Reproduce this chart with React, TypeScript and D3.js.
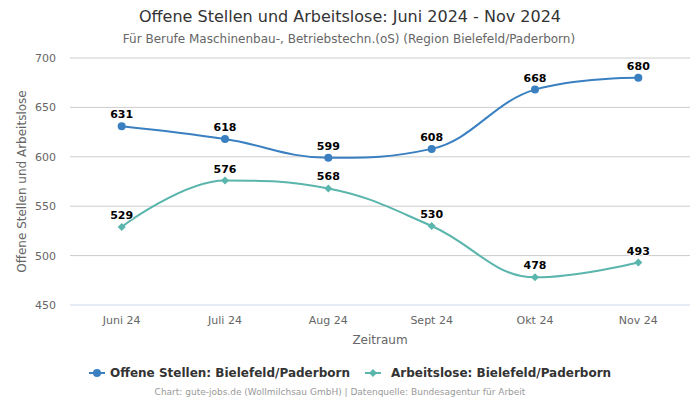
import React from "react";
import * as d3 from "d3";

const categories = ["Juni 24", "Juli 24", "Aug 24", "Sept 24", "Okt 24", "Nov 24"];
const offeneStellen = [631, 618, 599, 608, 668, 680];
const arbeitslose = [529, 576, 568, 530, 478, 493];
const yTicks = [450, 500, 550, 600, 650, 700];

const W = 700, H = 400;
const plot = { left: 70, right: 690, top: 58, bottom: 305 };
const FONT = "'DejaVu Sans', sans-serif";
const BLUE = "#3a80c1";
const TEAL = "#5ab5ad";

type P = { x: number; y: number };

function hcSpline(pts: P[]): string {
  const smoothing = 1.5, denom = smoothing + 1;
  const rc: { x: number; y: number }[] = [];
  const lc: { x: number; y: number }[] = [];
  pts.forEach((p, i) => {
    const last = pts[i - 1], next = pts[i + 1];
    if (last && next) {
      const lcx = (smoothing * p.x + last.x) / denom;
      let lcy = (smoothing * p.y + last.y) / denom;
      const rcx = (smoothing * p.x + next.x) / denom;
      let rcy = (smoothing * p.y + next.y) / denom;
      if (rcx !== lcx) {
        const corr = ((rcy - lcy) * (rcx - p.x)) / (rcx - lcx) + p.y - rcy;
        lcy += corr;
        rcy += corr;
      }
      if (lcy > last.y && lcy > p.y) { lcy = Math.max(last.y, p.y); rcy = 2 * p.y - lcy; }
      else if (lcy < last.y && lcy < p.y) { lcy = Math.min(last.y, p.y); rcy = 2 * p.y - lcy; }
      if (rcy > next.y && rcy > p.y) { rcy = Math.max(next.y, p.y); lcy = 2 * p.y - rcy; }
      else if (rcy < next.y && rcy < p.y) { rcy = Math.min(next.y, p.y); lcy = 2 * p.y - rcy; }
      lc[i] = { x: lcx, y: lcy };
      rc[i] = { x: rcx, y: rcy };
    } else {
      lc[i] = { x: p.x, y: p.y };
      rc[i] = { x: p.x, y: p.y };
    }
  });
  let d = `M${pts[0].x},${pts[0].y}`;
  for (let i = 1; i < pts.length; i++) {
    d += `C${rc[i - 1].x},${rc[i - 1].y} ${lc[i].x},${lc[i].y} ${pts[i].x},${pts[i].y}`;
  }
  return d;
}

export default function App() {
  const x = d3.scaleBand<string>().domain(categories).range([plot.left, plot.right]);
  const y = d3.scaleLinear().domain([450, 700]).range([plot.bottom, plot.top]);
  const cx = (c: string) => (x(c) as number) + x.bandwidth() / 2;

  const series = [
    { name: "Offene Stellen: Bielefeld/Paderborn", data: offeneStellen, color: BLUE, marker: "circle" },
    { name: "Arbeitslose: Bielefeld/Paderborn", data: arbeitslose, color: TEAL, marker: "diamond" },
  ];

  const marker = (kind: string, px: number, py: number, color: string, key: string) =>
    kind === "circle" ? (
      <circle key={key} cx={px} cy={py} r={4} fill={color} />
    ) : (
      <path key={key} d={`M${px},${py - 4}L${px + 4},${py}L${px},${py + 4}L${px - 4},${py}Z`} fill={color} />
    );

  return (
    <svg width={W} height={H} style={{ position: "absolute", left: 0, top: 0, fontFamily: FONT }}>
      <rect width={W} height={H} fill="#fff" />
      <text x={350} y={22} textAnchor="middle" fontSize={16} fill="#333">
        Offene Stellen und Arbeitslose: Juni 2024 - Nov 2024
      </text>
      <text x={349} y={43} textAnchor="middle" fontSize={12} fill="#666">
        Für Berufe Maschinenbau-, Betriebstechn.(oS) (Region Bielefeld/Paderborn)
      </text>

      {yTicks.map((t) => (
        <g key={t}>
          <line x1={plot.left} x2={plot.right} y1={y(t)} y2={y(t)} stroke={t === 450 ? "#ccd6eb" : "#cccccc"} strokeWidth={1} />
          <text x={56} y={y(t) + 4} textAnchor="end" fontSize={11} fill="#666">{t}</text>
        </g>
      ))}
      {categories.map((c) => (
        <text key={c} x={cx(c)} y={324} textAnchor="middle" fontSize={11} fill="#666">{c}</text>
      ))}
      <text x={380} y={344} textAnchor="middle" fontSize={12} fill="#666">Zeitraum</text>
      <text transform={`translate(26,${(plot.top + plot.bottom) / 2}) rotate(-90)`} textAnchor="middle" fontSize={12} fill="#666">
        Offene Stellen und Arbeitslose
      </text>

      {series.map((s) => {
        const pts = s.data.map((v, i) => ({ x: cx(categories[i]), y: y(v) }));
        return (
          <g key={s.name}>
            <path d={hcSpline(pts)} fill="none" stroke={s.color} strokeWidth={2} />
            {pts.map((p, i) => marker(s.marker, p.x, p.y, s.color, `m${i}`))}
            {pts.map((p, i) => (
              <text key={`t${i}`} x={p.x} y={p.y - 8} textAnchor="middle" fontSize={11} fontWeight="bold" fill="#000"
                stroke="#fff" strokeWidth={2} paintOrder="stroke">{s.data[i]}</text>
            ))}
          </g>
        );
      })}

      {/* legend */}
      <g>
        <line x1={89} x2={105} y1={373} y2={373} stroke={BLUE} strokeWidth={2} />
        {marker("circle", 97, 373, BLUE, "l1")}
        <text x={110} y={377} fontSize={12} fontWeight="bold" fill="#333">{series[0].name}</text>
        <line x1={365} x2={381} y1={373} y2={373} stroke={TEAL} strokeWidth={2} />
        {marker("diamond", 373, 373, TEAL, "l2")}
        <text x={391} y={377} fontSize={12} fontWeight="bold" fill="#333">{series[1].name}</text>
      </g>
      <text x={340} y={395} textAnchor="middle" fontSize={9} fill="#999">
        Chart: gute-jobs.de (Wollmilchsau GmbH) | Datenquelle: Bundesagentur für Arbeit
      </text>
    </svg>
  );
}
